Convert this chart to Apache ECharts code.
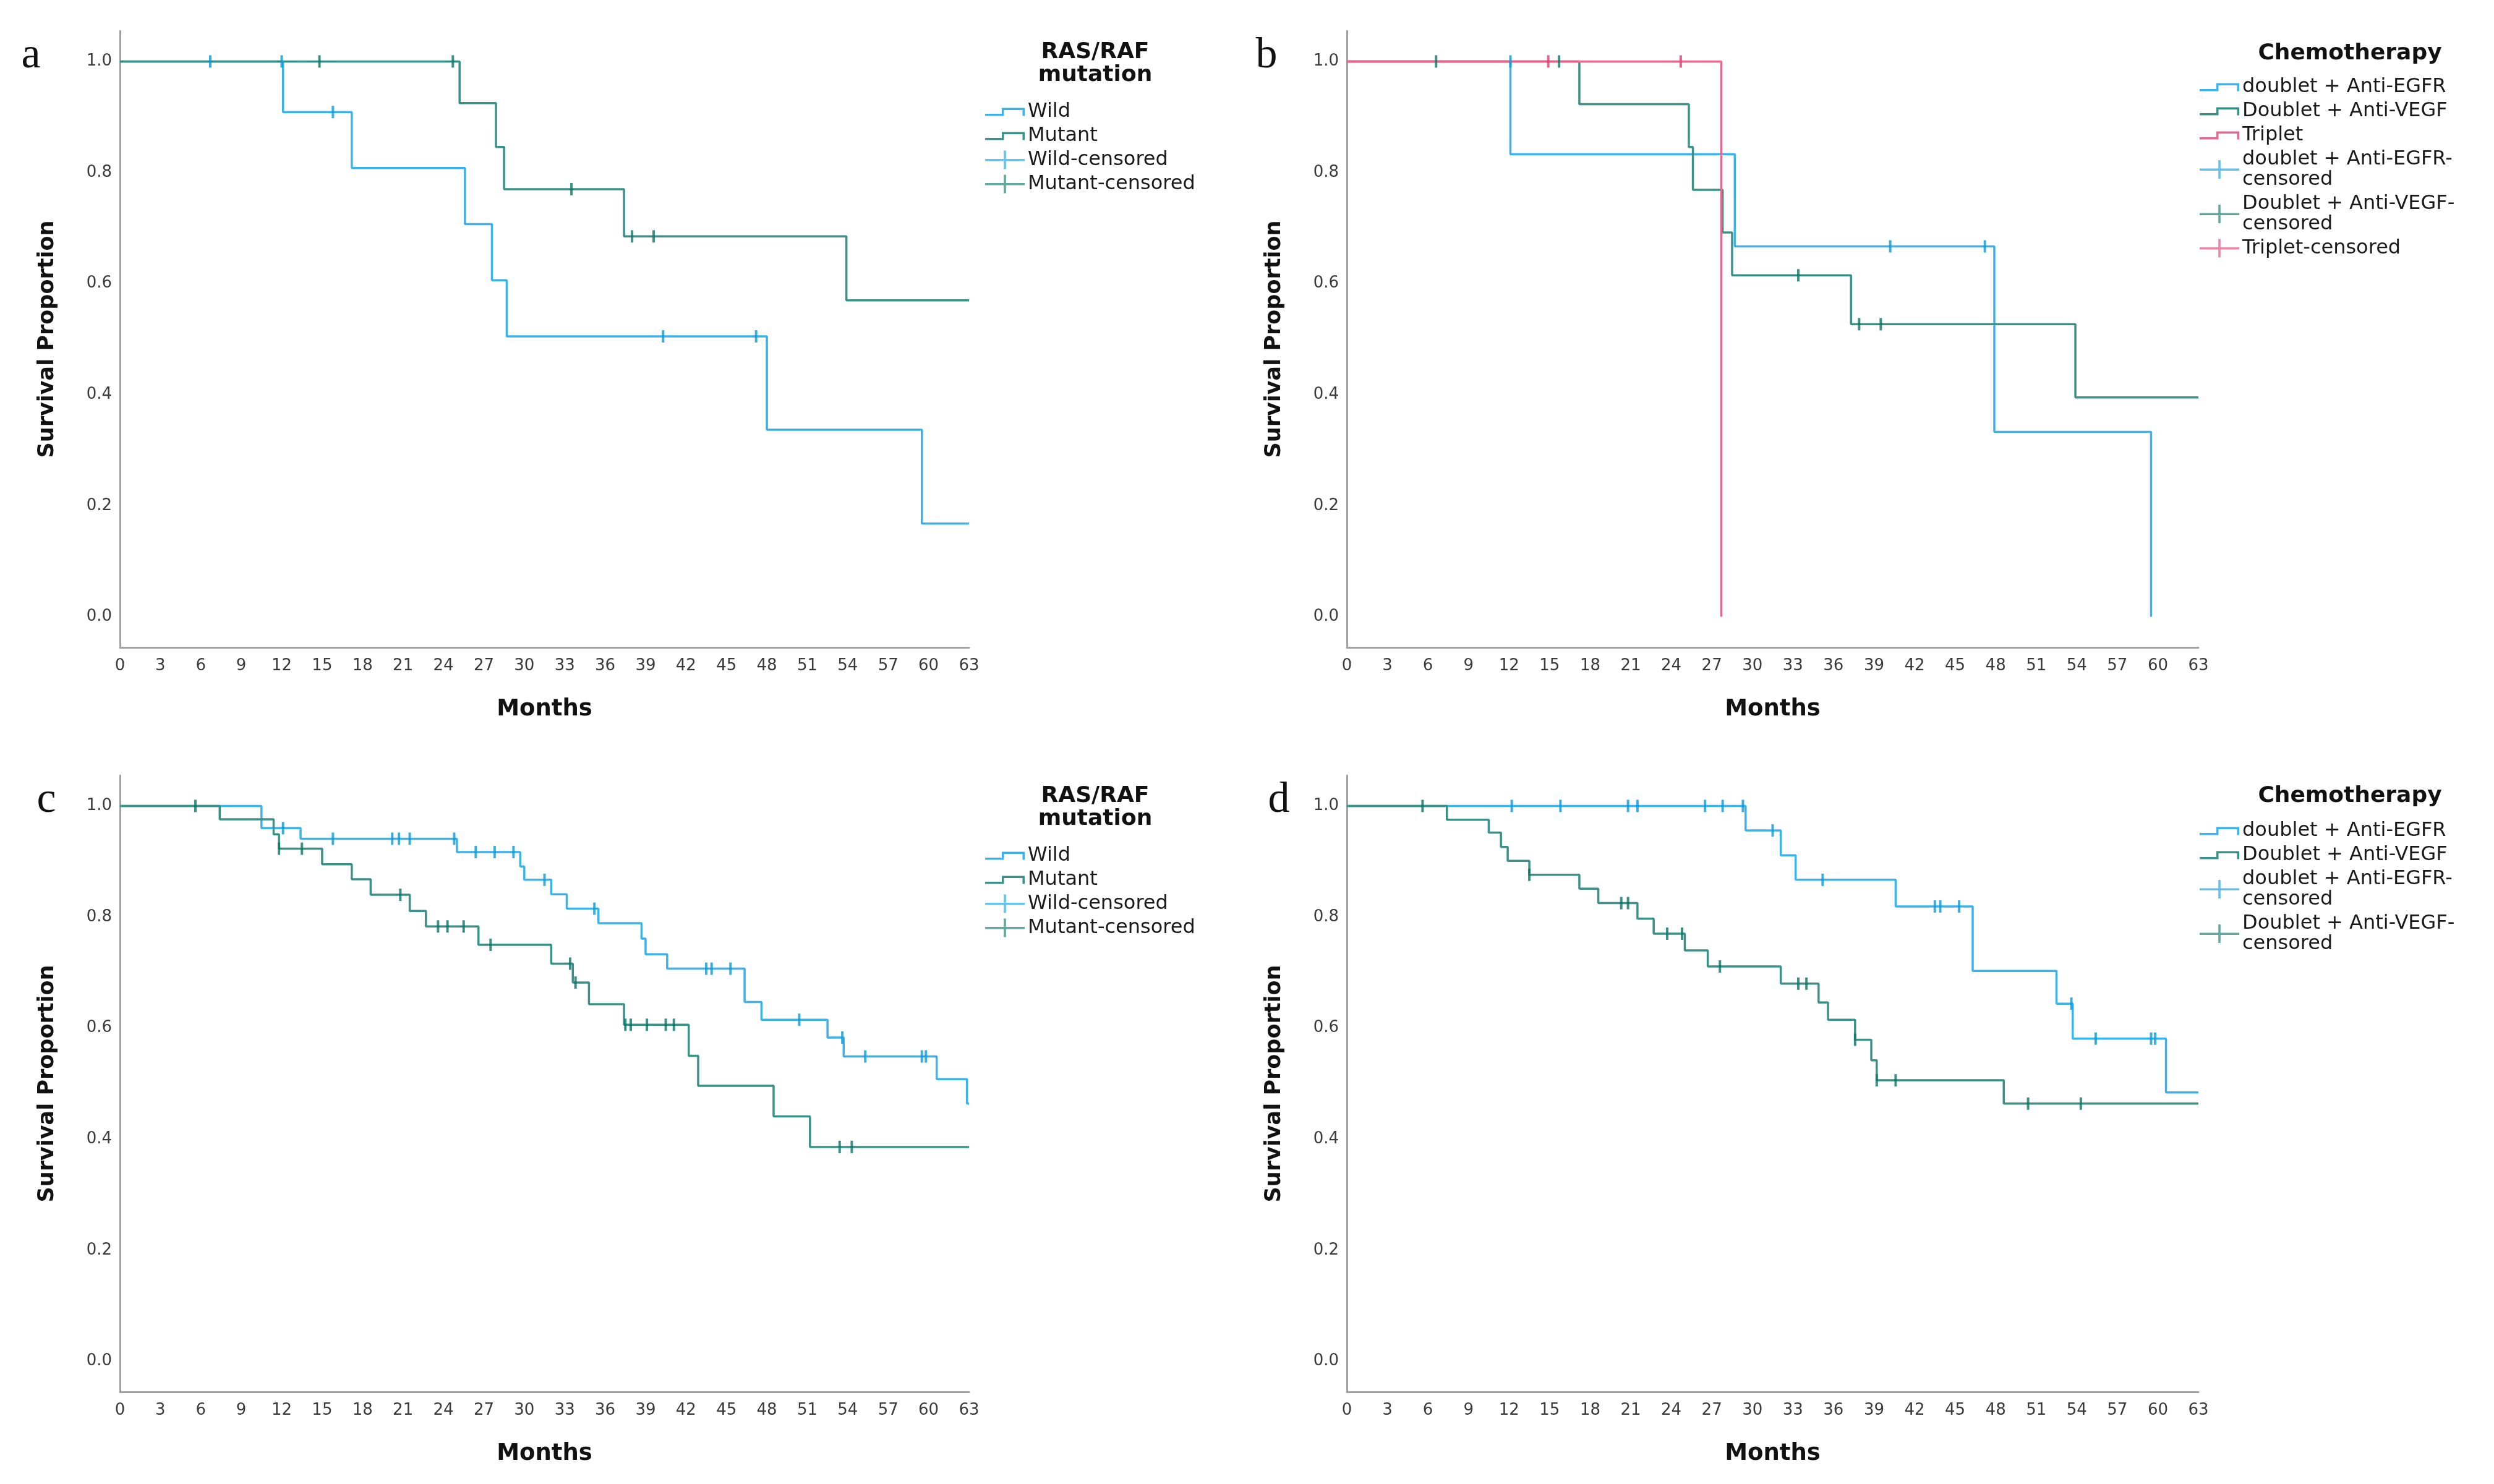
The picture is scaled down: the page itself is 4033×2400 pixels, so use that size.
<!DOCTYPE html>
<html>
<head>
<meta charset="utf-8">
<script src="https://cdn.jsdelivr.net/npm/echarts@6/dist/echarts.min.js"></script>
<style>html,body{margin:0;padding:0;background:#fff;}#c{width:4033px;height:2400px;}</style>
</head>
<body>
<div id="c"></div>
<script>
// ---------- DATA ----------
const monthTicks = [0,3,6,9,12,15,18,21,24,27,30,33,36,39,42,45,48,51,54,57,60,63];
const survTicks = [0.0,0.2,0.4,0.6,0.8,1.0];

// Panel a: RAS/RAF mutation
const aWild = [[0,1],[12.1,0.909],[17.2,0.808],[25.6,0.707],[27.6,0.606],[28.7,0.505],[48.0,0.337],[59.5,0.168],[63,0.168]];
const aMutant = [[0,1],[25.2,0.925],[27.9,0.846],[28.5,0.770],[37.4,0.685],[53.9,0.570],[63,0.570]];
const aWildCens = [[6.7,1],[12.0,1],[15.8,0.909],[40.3,0.505],[47.2,0.505]];
const aMutantCens = [[14.8,1],[24.7,1],[33.5,0.770],[38.0,0.685],[39.6,0.685]];

// Panel b: Chemotherapy
const bEGFR = [[0,1],[12.1,0.833],[28.7,0.667],[47.9,0.333],[59.5,0]];
const bVEGF = [[0,1],[17.2,0.923],[25.3,0.846],[25.6,0.769],[27.8,0.692],[28.5,0.615],[37.3,0.527],[53.9,0.395],[63,0.395]];
const bTriplet = [[0,1],[27.7,0]];
const bEGFRCens = [[12.1,1],[40.2,0.667],[47.2,0.667]];
const bVEGFCens = [[6.6,1],[15.7,1],[33.4,0.615],[37.9,0.527],[39.5,0.527]];
const bTripletCens = [[14.9,1],[24.7,1]];

// Panel c: RAS/RAF mutation
const cWild = [[0,1],[10.5,0.960],[13.4,0.941],[25.0,0.917],[29.7,0.891],[30.0,0.867],[32.0,0.841],[33.15,0.815],[35.5,0.789],[38.7,0.761],[39.0,0.733],[40.6,0.707],[46.35,0.647],[47.6,0.615],[52.5,0.583],[53.7,0.549],[60.6,0.508],[62.85,0.464],[63,0.464]];
const cMutant = [[0,1],[7.4,0.976],[11.4,0.949],[11.8,0.923],[15.0,0.895],[17.2,0.868],[18.6,0.840],[21.5,0.811],[22.7,0.783],[26.6,0.750],[32.0,0.716],[33.6,0.682],[34.8,0.643],[37.4,0.606],[42.2,0.550],[42.9,0.496],[48.5,0.441],[51.2,0.386],[63,0.386]];
const cWildCens = [[12.1,0.960],[15.8,0.941],[20.2,0.941],[20.7,0.941],[21.5,0.941],[24.8,0.941],[26.4,0.917],[27.8,0.917],[29.2,0.917],[31.5,0.867],[35.2,0.815],[43.5,0.707],[43.9,0.707],[45.3,0.707],[50.4,0.615],[53.6,0.583],[55.3,0.549],[59.5,0.549],[59.8,0.549]];
const cMutantCens = [[5.6,1],[11.8,0.923],[13.5,0.923],[20.8,0.840],[23.6,0.783],[24.3,0.783],[25.5,0.783],[27.5,0.750],[33.4,0.716],[33.8,0.682],[37.5,0.606],[37.9,0.606],[39.1,0.606],[40.5,0.606],[41.1,0.606],[53.4,0.386],[54.3,0.386]];

// Panel d: Chemotherapy
const dEGFR = [[0,1],[29.5,0.956],[32.1,0.911],[33.2,0.867],[40.6,0.819],[46.3,0.703],[52.5,0.644],[53.7,0.581],[60.6,0.484],[63,0.484]];
const dVEGF = [[0,1],[7.4,0.975],[10.5,0.952],[11.4,0.926],[11.9,0.901],[13.5,0.876],[17.2,0.851],[18.6,0.825],[21.5,0.797],[22.7,0.770],[25.0,0.740],[26.7,0.711],[32.1,0.680],[34.9,0.646],[35.6,0.615],[37.6,0.579],[38.8,0.542],[39.2,0.506],[48.6,0.464],[63,0.464]];
const dEGFRCens = [[12.2,1],[15.8,1],[20.8,1],[21.5,1],[26.5,1],[27.8,1],[29.3,1],[31.5,0.956],[35.2,0.867],[43.5,0.819],[43.9,0.819],[45.3,0.819],[53.6,0.644],[55.4,0.581],[59.5,0.581],[59.8,0.581]];
const dVEGFCens = [[5.6,1],[13.5,0.876],[20.3,0.825],[20.8,0.825],[23.7,0.770],[24.8,0.770],[27.6,0.711],[33.4,0.680],[34.0,0.680],[37.6,0.579],[39.2,0.506],[40.6,0.506],[50.4,0.464],[54.3,0.464]];

const panelLetters = ['a','b','c','d'];
const legendTitles = ['RAS/RAF\nmutation','Chemotherapy','RAS/RAF\nmutation','Chemotherapy'];

// ---------- STYLE ----------
const FONT = "'DejaVu Sans', 'Noto Sans', sans-serif";
const TICKFONT = "'DejaVu Sans', 'Noto Sans', sans-serif";
const BLUE = '#3bb3ea', TEAL = '#3a9189', PINK = '#e4698f';
const BLUE_C = '#0a9ad8', TEAL_C = '#0b7468', PINK_C = '#d8406e';
const AXISC = '#a0a0a0';

const STEP_ICON = 'path://M0,0L0.01,0L0,0.01ZM64,30L63.99,30L64,29.99ZM0,18.5L27,18.5L27,9L64,9L64,22L60.5,22L60.5,12.5L30.5,12.5L30.5,22L0,22Z';
const CENS_ICON = 'path://M0,13.5L30.2,13.5L30.2,0L33.8,0L33.8,13.5L64,13.5L64,17L33.8,17L33.8,30L30.2,30L30.2,17L0,17Z';

const grids = [
  {left:194, top:50, width:1373, height:997},
  {left:2178, top:50, width:1377, height:997},
  {left:194, top:1254, width:1373, height:997},
  {left:2178, top:1254, width:1377, height:997}
];

function xAx(i){
  return {gridIndex:i, type:'value', min:0, max:63, interval:3,
    axisLine:{show:true, onZero:false, lineStyle:{color:AXISC, width:3}},
    axisTick:{show:false}, splitLine:{show:false},
    axisLabel:{fontSize:26, color:'#3a3a3a', margin:17, fontFamily:TICKFONT, showMaxLabel:true, showMinLabel:true},
    name:'Months', nameLocation:'middle', nameGap:82,
    nameTextStyle:{fontSize:37, fontWeight:'bold', color:'#111', fontFamily:FONT}};
}
function yAx(i){
  return {gridIndex:i, type:'value', min:-0.055, max:1.055,
    axisLine:{show:true, onZero:false, lineStyle:{color:AXISC, width:3}},
    axisTick:{show:false}, splitLine:{show:false},
    axisLabel:{customValues:survTicks, formatter:(v)=>Number(v).toFixed(1), fontSize:26, color:'#3a3a3a', margin:13, fontFamily:TICKFONT},
    name:'Survival Proportion', nameLocation:'middle', nameGap:100, nameRotate:90,
    nameTextStyle:{fontSize:35, fontWeight:'bold', color:'#111', fontFamily:FONT}};
}
function line(name, data, color, gi){
  return {type:'line', name, data, xAxisIndex:gi, yAxisIndex:gi, step:'end', showSymbol:false, symbol:'none',
    lineStyle:{color, width:3.5}, itemStyle:{color}, z:2, silent:true, animation:false};
}
function cens(name, data, color, gi){
  return {type:'scatter', name, data, xAxisIndex:gi, yAxisIndex:gi, symbol:'rect', symbolSize:[4,20],
    itemStyle:{color}, z:3, silent:true, animation:false};
}

const series = [
  line('Wild', aWild, BLUE, 0), line('Mutant', aMutant, TEAL, 0),
  cens('Wild-censored', aWildCens, BLUE_C, 0), cens('Mutant-censored', aMutantCens, TEAL_C, 0),
  line('doublet + Anti-EGFR', bEGFR, BLUE, 1), line('Doublet + Anti-VEGF', bVEGF, TEAL, 1), line('Triplet', bTriplet, PINK, 1),
  cens('doublet + Anti-EGFR-censored', bEGFRCens, BLUE_C, 1), cens('Doublet + Anti-VEGF-censored', bVEGFCens, TEAL_C, 1), cens('Triplet-censored', bTripletCens, PINK_C, 1),
  line('Wild', cWild, BLUE, 2), line('Mutant', cMutant, TEAL, 2),
  cens('Wild-censored', cWildCens, BLUE_C, 2), cens('Mutant-censored', cMutantCens, TEAL_C, 2),
  line('doublet + Anti-EGFR', dEGFR, BLUE, 3), line('Doublet + Anti-VEGF', dVEGF, TEAL, 3),
  cens('doublet + Anti-EGFR-censored', dEGFRCens, BLUE_C, 3), cens('Doublet + Anti-VEGF-censored', dVEGFCens, TEAL_C, 3)
];

function li(name, icon, color){ return {name, icon, itemStyle:{color, borderWidth:0}}; }
function legend(left, top, data){
  return {orient:'vertical', left, top, padding:0, itemWidth:64, itemHeight:30, itemGap:6, selectedMode:false,
    itemStyle:{borderWidth:0},
    textStyle:{fontSize:32, lineHeight:33, color:'#1a1a1a', fontFamily:FONT},
    formatter:(n)=>n.replace('EGFR-censored','EGFR-\ncensored').replace('VEGF-censored','VEGF-\ncensored'),
    data};
}
const legA = [li('Wild',STEP_ICON,BLUE), li('Mutant',STEP_ICON,TEAL), li('Wild-censored',CENS_ICON,BLUE), li('Mutant-censored',CENS_ICON,TEAL)];
const legB = [li('doublet + Anti-EGFR',STEP_ICON,BLUE), li('Doublet + Anti-VEGF',STEP_ICON,TEAL), li('Triplet',STEP_ICON,PINK),
  li('doublet + Anti-EGFR-censored',CENS_ICON,BLUE), li('Doublet + Anti-VEGF-censored',CENS_ICON,TEAL), li('Triplet-censored',CENS_ICON,PINK)];
const legD = [li('doublet + Anti-EGFR',STEP_ICON,BLUE), li('Doublet + Anti-VEGF',STEP_ICON,TEAL),
  li('doublet + Anti-EGFR-censored',CENS_ICON,BLUE), li('Doublet + Anti-VEGF-censored',CENS_ICON,TEAL)];

const letterPos = [[50,91],[2048,91],[75,1295],[2068,1295]];
const titlePos = [[1771,103],[3800,87],[1771,1306],[3800,1288]];
const graphics = [];
panelLetters.forEach((t,i)=>{
  graphics.push({type:'text', x:letterPos[i][0], y:letterPos[i][1], silent:true,
    style:{text:t, fontSize:70, fontFamily:"'Liberation Serif', serif", fill:'#111', align:'center', verticalAlign:'middle'}});
});
legendTitles.forEach((t,i)=>{
  graphics.push({type:'text', x:titlePos[i][0], y:titlePos[i][1], silent:true,
    style:{text:t, fontSize:36, fontWeight:'bold', lineHeight:37, fontFamily:FONT, fill:'#111', align:'center', verticalAlign:'middle'}});
});

const option = {
  animation:false,
  backgroundColor:'#fff',
  grid: grids.map(g=>Object.assign({outerBoundsMode:'none', containLabel:false}, g)),
  xAxis: [0,1,2,3].map(xAx),
  yAxis: [0,1,2,3].map(yAx),
  legend: [legend(1593,164,legA), legend(3557,124,legB), legend(1593,1367,legA), legend(3557,1327,legD)],
  graphic: graphics,
  series
};
const chart = echarts.init(document.getElementById('c'), null, {renderer:'canvas'});
chart.setOption(option);
</script>
</body>
</html>
